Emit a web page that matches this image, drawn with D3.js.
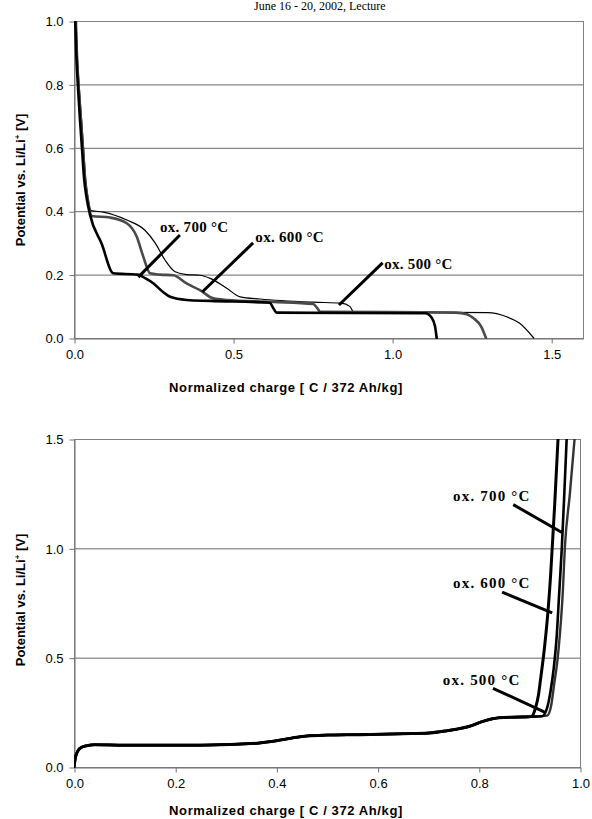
<!DOCTYPE html>
<html>
<head>
<meta charset="utf-8">
<script src="https://cdn.jsdelivr.net/npm/d3@7"></script>
<style>
  html, body { margin: 0; padding: 0; background: #fff; }
  svg { display: block; }
</style>
</head>
<body>
<svg id="chart" width="592" height="819"></svg>
<script>
// ---------- DATA ----------
const headerText = "June 16 - 20, 2002, Lecture";
const xTitle = "Normalized charge [ C / 372 Ah/kg]";

// Top chart: discharge curves [charge, potential]
const topTicksX = [0, 0.5, 1.0, 1.5];
const topTicksY = [0, 0.2, 0.4, 0.6, 0.8, 1.0];

const dis700 = [[0.002,1.06],[0.007,0.9],[0.012,0.8],[0.018,0.7],[0.025,0.6],[0.032,0.5],[0.04,0.44],[0.05,0.39],
  [0.087,0.297],[0.124,0.204],[0.2,0.2],[0.225,0.188],[0.25,0.172],[0.28,0.145],[0.302,0.13],[0.354,0.12],[0.428,0.117],
  [0.616,0.111],[0.626,0.095],[0.637,0.08],[1.104,0.078],[1.125,0.063],[1.135,0.036],[1.14,0]];
const dis600 = [[0.004,1.06],[0.009,0.9],[0.014,0.8],[0.021,0.7],[0.028,0.6],[0.035,0.5],[0.043,0.44],[0.056,0.385],
  [0.113,0.38],[0.166,0.362],[0.197,0.32],[0.218,0.256],[0.239,0.204],[0.27,0.2],[0.312,0.198],[0.354,0.172],
  [0.396,0.151],[0.438,0.125],[0.48,0.12],[0.627,0.114],[0.752,0.107],[0.764,0.095],[0.774,0.083],
  [1.2,0.08],[1.235,0.075],[1.255,0.063],[1.28,0.036],[1.295,0]];
const dis500 = [[0.005,1.06],[0.01,0.9],[0.016,0.8],[0.023,0.7],[0.03,0.6],[0.037,0.5],[0.044,0.44],[0.054,0.402],
  [0.092,0.397],[0.166,0.372],[0.223,0.34],[0.255,0.30],[0.286,0.246],[0.318,0.209],[0.354,0.2],[0.396,0.198],
  [0.428,0.188],[0.48,0.157],[0.522,0.13],[0.585,0.123],[0.752,0.113],[0.84,0.11],[0.868,0.099],[0.878,0.083],
  [1.3,0.08],[1.36,0.067],[1.40,0.047],[1.445,0]];

// Bottom chart: charge curves [charge, potential]
const botTicksX = [0, 0.2, 0.4, 0.6, 0.8, 1.0];
const botTicksY = [0, 0.5, 1.0, 1.5];

const chgBase = [[0,0],[0.003,0.045],[0.008,0.075],[0.015,0.09],[0.025,0.097],[0.04,0.102],[0.1,0.10],[0.25,0.10],
  [0.33,0.105],[0.367,0.11],[0.40,0.12],[0.43,0.132],[0.46,0.142],[0.5,0.146],[0.565,0.148],[0.65,0.152],
  [0.70,0.155],[0.737,0.166],[0.78,0.185],[0.81,0.21],[0.84,0.225],[0.87,0.228],[0.9,0.23]];
const chg600 = [[0.905,0.232],[0.912,0.27],[0.918,0.33],[0.922,0.40],[0.93,0.55],[0.937,0.72],[0.942,0.88],
  [0.945,1.0],[0.95,1.2],[0.957,1.52]];
const chg700 = [[0.925,0.232],[0.935,0.27],[0.942,0.35],[0.948,0.45],[0.954,0.6],[0.959,0.8],[0.964,1.0],
  [0.969,1.25],[0.974,1.52]];
const chg500 = [[0.935,0.235],[0.943,0.28],[0.949,0.38],[0.955,0.48],[0.96,0.6],[0.966,0.8],[0.970,1.0],
  [0.98,1.25],[0.99,1.52]];

// Annotations: label, text anchor point [x,y] in data units, leader from -> to in data units
const topNotes = [
  {label:"ox. 700 °C", at:[0.27,0.335], from:[0.333,0.325], to:[0.202,0.192]},
  {label:"ox. 600 °C", at:[0.57,0.303], from:[0.563,0.30], to:[0.403,0.145]},
  {label:"ox. 500 °C", at:[0.975,0.218], from:[0.97,0.237], to:[0.833,0.104]}
];
const botNotes = [
  {label:"ox. 700 °C", at:[0.749,1.215], from:[0.868,1.20], to:[0.966,1.07]},
  {label:"ox. 600 °C", at:[0.749,0.818], from:[0.846,0.80], to:[0.945,0.705]},
  {label:"ox. 500 °C", at:[0.729,0.375], from:[0.828,0.36], to:[0.931,0.25]}
];

// ---------- DRAW ----------
const svg = d3.select("#chart");
const axisFont = "'Liberation Sans', Arial, sans-serif";
const serifFont = "'Liberation Serif', 'Times New Roman', serif";

svg.append("text").attr("x", 254).attr("y", 10).attr("font-family", serifFont)
  .attr("font-size", 12).attr("fill", "#000").text(headerText);

function panel(cfg) {
  const x = d3.scaleLinear().domain(cfg.xDomain).range([cfg.left, cfg.right]);
  const y = d3.scaleLinear().domain(cfg.yDomain).range([cfg.bottom, cfg.top]);
  const g = svg.append("g");

  // gridlines
  g.selectAll("line.grid").data(cfg.yTicks.filter(v => v > cfg.yDomain[0])).join("line")
    .attr("x1", cfg.left).attr("x2", cfg.right)
    .attr("y1", d => y(d) + 0.5).attr("y2", d => y(d) + 0.5)
    .attr("stroke", "#6a6a6a").attr("stroke-width", 1);

  // plot border
  g.append("rect").attr("x", cfg.left + 0.5).attr("y", cfg.top + 0.5)
    .attr("width", cfg.right - cfg.left).attr("height", cfg.bottom - cfg.top)
    .attr("fill", "none").attr("stroke", "#808080").attr("stroke-width", 1);

  // axes
  const xAxis = d3.axisBottom(x).tickValues(cfg.xTicks).tickFormat(d3.format(".1f"))
    .tickSizeOuter(0).tickSizeInner(5).tickPadding(6);
  const yAxis = d3.axisLeft(y).tickValues(cfg.yTicks).tickFormat(d3.format(".1f"))
    .tickSizeOuter(0).tickSizeInner(5).tickPadding(6);

  const gx = g.append("g").attr("transform", `translate(0.5,${cfg.bottom + 0.5})`).call(xAxis);
  const gy = g.append("g").attr("transform", `translate(${cfg.left + 0.5},0.5)`).call(yAxis);
  [gx, gy].forEach(a => {
    a.select(".domain").attr("stroke", "#707070");
    a.selectAll(".tick line").attr("stroke", "#707070");
    a.selectAll(".tick text").attr("font-family", axisFont).attr("font-size", 13).attr("fill", "#000");
  });

  // axis titles
  g.append("text").attr("x", cfg.xTitleX).attr("y", cfg.xTitleY).attr("text-anchor", "middle")
    .attr("font-family", axisFont).attr("font-size", 13).attr("font-weight", "bold")
    .attr("letter-spacing", 0.6).text(xTitle);
  const yt = g.append("text").attr("transform", `translate(25,${cfg.yTitleY}) rotate(-90)`)
    .attr("text-anchor", "middle").attr("font-family", axisFont).attr("font-size", 13)
    .attr("font-weight", "bold");
  yt.append("tspan").text("Potential vs. Li/Li");
  yt.append("tspan").attr("font-size", 8).attr("dy", -5).text("+");
  yt.append("tspan").attr("dy", 5).text(" [V]");

  // clip
  const clipId = "clip" + cfg.id;
  svg.append("clipPath").attr("id", clipId).append("rect")
    .attr("x", cfg.left).attr("y", cfg.top).attr("width", cfg.right - cfg.left + 2)
    .attr("height", cfg.bottom - cfg.top + 1);

  const line = d3.line().x(d => x(d[0])).y(d => y(d[1])).curve(d3.curveMonotoneX);
  const lg = g.append("g").attr("clip-path", `url(#${clipId})`);
  cfg.series.forEach(s => {
    lg.append("path").attr("d", line(s.data)).attr("fill", "none")
      .attr("stroke", s.color).attr("stroke-width", s.width)
      .attr("stroke-linejoin", "round").attr("stroke-linecap", "round");
  });

  // annotations
  cfg.notes.forEach(n => {
    g.append("line").attr("x1", x(n.from[0])).attr("y1", y(n.from[1]))
      .attr("x2", x(n.to[0])).attr("y2", y(n.to[1]))
      .attr("stroke", "#000").attr("stroke-width", 3);
    g.append("text").attr("x", x(n.at[0])).attr("y", y(n.at[1]))
      .attr("font-family", serifFont).attr("font-size", cfg.noteSize).attr("font-weight", "bold")
      .attr("letter-spacing", cfg.noteSpacing).text(n.label);
  });
}

panel({
  id: "top", left: 74, right: 583, top: 21, bottom: 338,
  xDomain: [0, 1.6], yDomain: [0, 1.0], xTicks: topTicksX, yTicks: topTicksY,
  xTitleX: 286, xTitleY: 392, yTitleY: 180,
  series: [
    {data: dis500, color: "#000", width: 1.2},
    {data: dis600, color: "#4a4a4a", width: 2.6},
    {data: dis700, color: "#000", width: 2.6}
  ],
  notes: topNotes, noteSize: 15, noteSpacing: 0.3
});

panel({
  id: "bot", left: 74, right: 580, top: 439, bottom: 767,
  xDomain: [0, 1.0], yDomain: [0, 1.5], xTicks: botTicksX, yTicks: botTicksY,
  xTitleX: 286, xTitleY: 815, yTitleY: 600,
  series: [
    {data: chgBase.concat(chg500), color: "#333", width: 2.4},
    {data: chgBase.concat(chg700), color: "#000", width: 2.6},
    {data: chgBase.concat(chg600), color: "#000", width: 3.0}
  ],
  notes: botNotes, noteSize: 15, noteSpacing: 1.2
});
</script>
</body>
</html>
